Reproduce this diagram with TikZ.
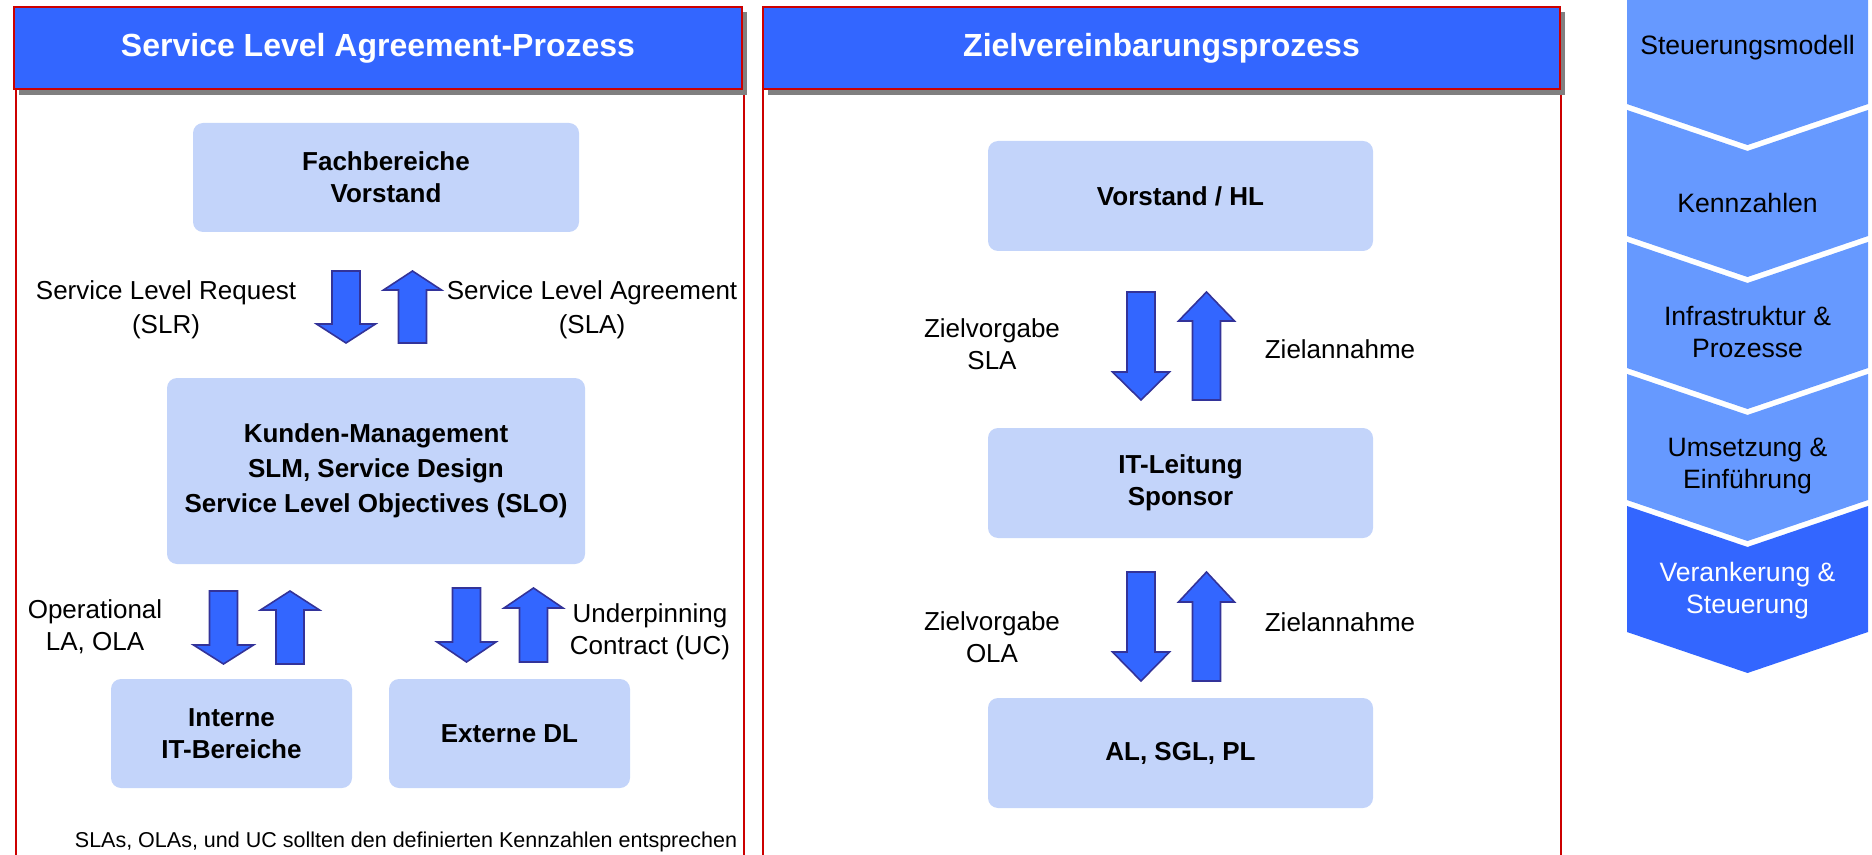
\documentclass[tikz,border=0pt]{standalone}
\usepackage{fontspec}
\setmainfont{Liberation Sans}
\definecolor{hdrblue}{HTML}{3366FF}
\definecolor{panelred}{HTML}{CC0000}
\definecolor{shadowgray}{HTML}{808080}
\definecolor{boxblue}{RGB}{195,212,250}
\definecolor{arrowedge}{HTML}{333399}
\definecolor{chevlight}{HTML}{6699FF}
\definecolor{chevdark}{HTML}{3366FF}
\tikzset{
  hdr/.style={draw=panelred, line width=1.25pt, fill=hdrblue, inner sep=0pt,
    text=white, font=\fontsize{16}{19}\selectfont\bfseries},
  panelline/.style={draw=panelred, line width=1pt},
  orgbox/.style={fill=boxblue, rounded corners=5pt, inner sep=0pt, align=center,
    font=\fontsize{13}{16}\selectfont\bfseries},
  lbl/.style={align=center, inner sep=0pt, font=\fontsize{13}{16}\selectfont},
  lblwide/.style={align=center, inner sep=0pt, font=\fontsize{13}{17}\selectfont},
  blockarrow/.style={fill=hdrblue, draw=arrowedge, line width=0.8pt, line join=miter},
  chevtext/.style={align=center, inner sep=0pt, font=\fontsize{13.3}{16}\selectfont},
}
% down block arrow: centre x, top, head base, tip, head half width
\newcommand{\DnBlock}[5]{%
  \draw[blockarrow] ({#1-14},#2) -- ({#1+14},#2) -- ({#1+14},#3) -- ({#1+#5},#3)
    -- (#1,#4) -- ({#1-#5},#3) -- ({#1-14},#3) -- cycle;}
% up block arrow: centre x, tip, head base, bottom, head half width
\newcommand{\UpBlock}[5]{%
  \draw[blockarrow] (#1,#2) -- ({#1+#5},#3) -- ({#1+14},#3) -- ({#1+14},#4)
    -- ({#1-14},#4) -- ({#1-14},#3) -- ({#1-#5},#3) -- cycle;}
% chevron: top side y, bottom side y, colour
\newcommand{\ChevShape}[3]{%
  \fill[#3] (1627,#1) -- (1747.5,{#1+41}) -- (1868,#1) -- (1868,#2)
    -- (1747.5,{#2+41}) -- (1627,#2) -- cycle;}
\begin{document}
\begin{tikzpicture}[x=0.5pt,y=-0.5pt]
\useasboundingbox (0,0) rectangle (1872,855);

% ---------- left panel ----------
\fill[shadowgray] (19,12) rectangle (747,95);
\node[hdr, minimum width=364pt, minimum height=41pt] (h1) at (378,48) {Service Level Agreement-Prozess};
\draw[panelline] (16,90) -- (16,855);
\draw[panelline] (744,95) -- (744,855);

\node[orgbox, minimum width=193pt, minimum height=54.5pt] (fach) at (386,177.5) {Fachbereiche\\Vorstand};
\node[orgbox, minimum width=209pt, minimum height=93pt, font=\fontsize{13}{17.5}\selectfont\bfseries] (kunden) at (376,471) {Kunden-Management\\SLM, Service Design\\Service Level Objectives (SLO)};
\node[orgbox, minimum width=120.5pt, minimum height=54.5pt] (interne) at (231.5,733.5) {Interne\\IT-Bereiche};
\node[orgbox, minimum width=120.5pt, minimum height=54.5pt] (externe) at (509.5,733.5) {Externe DL};

\DnBlock{346}{271}{324}{343}{29.5}
\UpBlock{412.5}{271}{290}{343}{29}
\DnBlock{223.5}{591}{645}{664}{30}
\UpBlock{290}{591}{610}{664}{29.5}
\DnBlock{466.5}{588}{642}{662}{29.5}
\UpBlock{533.5}{588}{608}{662}{29.5}

\node[lblwide] (slr) at (166,310) {Service Level Request\\(SLR)};
\node[lblwide] (sla) at (592,310) {Service Level Agreement\\(SLA)};
\node[lbl] (ola) at (95,627) {Operational\\LA, OLA};
\node[lbl] (uc) at (650,632) {Underpinning\\Contract (UC)};
\node[inner sep=0pt, font=\fontsize{10.75}{13}\selectfont] (note) at (406,842) {SLAs, OLAs, und UC sollten den definierten Kennzahlen entsprechen};

% ---------- middle panel ----------
\fill[shadowgray] (768,12) rectangle (1565,95);
\node[hdr, minimum width=398.5pt, minimum height=41pt] (h2) at (1161.5,48) {Zielvereinbarungsprozess};
\draw[panelline] (763,90) -- (763,855);
\draw[panelline] (1561,95) -- (1561,855);

\node[orgbox, minimum width=192.5pt, minimum height=55pt] (vhl) at (1180.5,196) {Vorstand / HL};
\node[orgbox, minimum width=192.5pt, minimum height=55pt] (itl) at (1180.5,483) {IT-Leitung\\Sponsor};
\node[orgbox, minimum width=192.5pt, minimum height=55pt] (al) at (1180.5,753) {AL, SGL, PL};

\DnBlock{1141}{292}{372}{400}{28.5}
\UpBlock{1206.5}{292}{321}{400}{28}
\DnBlock{1141}{572}{652}{681}{28.5}
\UpBlock{1206.5}{572}{602}{681}{28}

\node[lbl] (zv1) at (992,344) {Zielvorgabe\\SLA};
\node[lbl] (za1) at (1340,349) {Zielannahme};
\node[lbl] (zv2) at (992,637) {Zielvorgabe\\OLA};
\node[lbl] (za2) at (1340,622) {Zielannahme};

% ---------- chevrons ----------
\fill[chevlight] (1627,0) -- (1868,0) -- (1868,104) -- (1747.5,145) -- (1627,104) -- cycle;
\ChevShape{110}{236}{chevlight}
\ChevShape{242}{368}{chevlight}
\ChevShape{374}{500}{chevlight}
\ChevShape{506}{632}{chevdark}

\node[chevtext] (c1) at (1747.5,48) {Steuerungsmodell};
\node[chevtext] (c2) at (1747.5,203) {Kennzahlen};
\node[chevtext] (c3) at (1747.5,332) {Infrastruktur \&\\Prozesse};
\node[chevtext] (c4) at (1747.5,466) {Umsetzung \&\\Einführung};
\node[chevtext, text=white] (c5) at (1747.5,591) {Verankerung \&\\Steuerung};
\end{tikzpicture}
\end{document}
